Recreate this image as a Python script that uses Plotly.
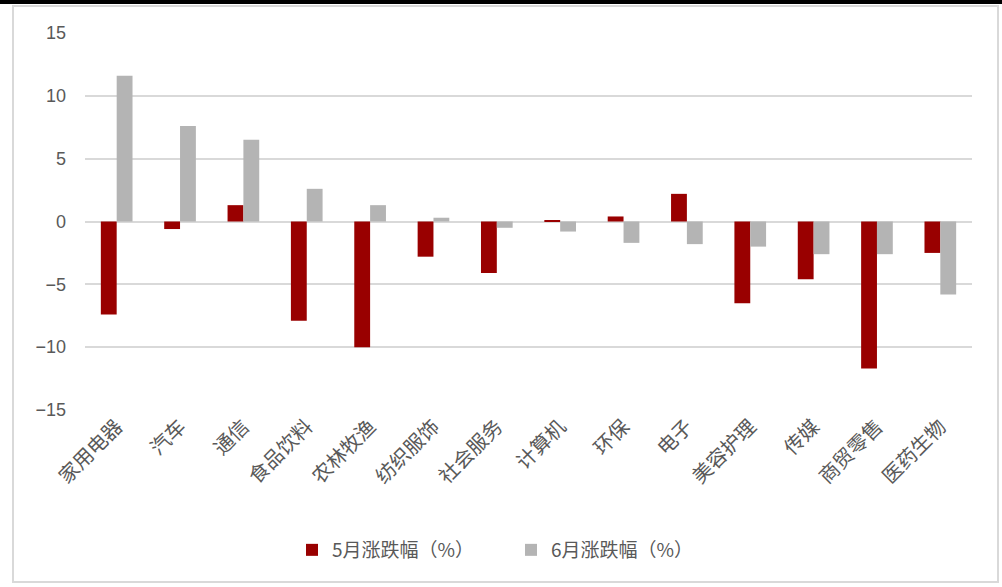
import plotly.graph_objects as go

# 申万一级行业 5月 / 6月 涨跌幅（%）
industries = ["家用电器", "汽车", "通信", "食品饮料", "农林牧渔", "纺织服饰", "社会服务",
              "计算机", "环保", "电子", "美容护理", "传媒", "商贸零售", "医药生物"]
may_change = [-7.4, -0.6, 1.3, -7.9, -10.0, -2.8, -4.1, 0.1, 0.4, 2.2, -6.5, -4.6, -11.7, -2.5]
june_change = [11.6, 7.6, 6.5, 2.6, 1.3, 0.3, -0.5, -0.8, -1.7, -1.8, -2.0, -2.6, -2.6, -5.8]
y_ticks = [-15, -10, -5, 0, 5, 10, 15]

RED = "#990000"
GREY = "#b4b4b4"
TEXT = "#595959"
GRID = "#d9d9d9"

W, H = 1002, 587
M_L, M_R, M_T, M_B = 85, 30, 33, 177
PW, PH = W - M_L - M_R, H - M_T - M_B


def px_x(x):
    return (x - M_L) / PW


def px_y(y):
    return (H - M_B - y) / PH


fig = go.Figure()
fig.add_trace(go.Bar(x=industries, y=may_change, name="5月涨跌幅（%）",
                     marker=dict(color=RED, line=dict(width=0))))
fig.add_trace(go.Bar(x=industries, y=june_change, name="6月涨跌幅（%）",
                     marker=dict(color=GREY, line=dict(width=0))))

# outer chart frame and top band
fig.add_shape(type="rect", xref="paper", yref="paper",
              x0=px_x(13), x1=px_x(998), y0=px_y(582), y1=px_y(6),
              line=dict(color=GRID, width=2), fillcolor="rgba(0,0,0,0)", layer="below")
fig.add_shape(type="rect", xref="paper", yref="paper",
              x0=px_x(0), x1=px_x(W), y0=px_y(4), y1=px_y(0),
              line=dict(width=0), fillcolor="#000000")

fig.update_layout(
    width=W, height=H,
    margin=dict(l=M_L, r=M_R, t=M_T, b=M_B),
    paper_bgcolor="white", plot_bgcolor="white",
    barmode="group", bargap=0.5, bargroupgap=0,
    showlegend=True,
    legend=dict(orientation="h", x=px_x(292), xanchor="left", y=px_y(550), yanchor="middle",
                font=dict(family="Noto Sans CJK SC", size=19, color=TEXT),
                entrywidth=174, itemwidth=30, bgcolor="rgba(0,0,0,0)"),
    xaxis=dict(tickangle=-45, tickfont=dict(family="Noto Sans CJK SC", size=20, color=TEXT),
               showgrid=False, showline=False, ticks=""),
    yaxis=dict(range=[-15, 15], tickvals=y_ticks, showgrid=True, gridcolor=GRID, gridwidth=1.5,
               zeroline=True, zerolinecolor=GRID, zerolinewidth=1.5,
               tickfont=dict(family="Liberation Sans, Arial", size=18, color=TEXT),
               ticklabelstandoff=18, showline=False),
)

fig.write_html("out.html")
